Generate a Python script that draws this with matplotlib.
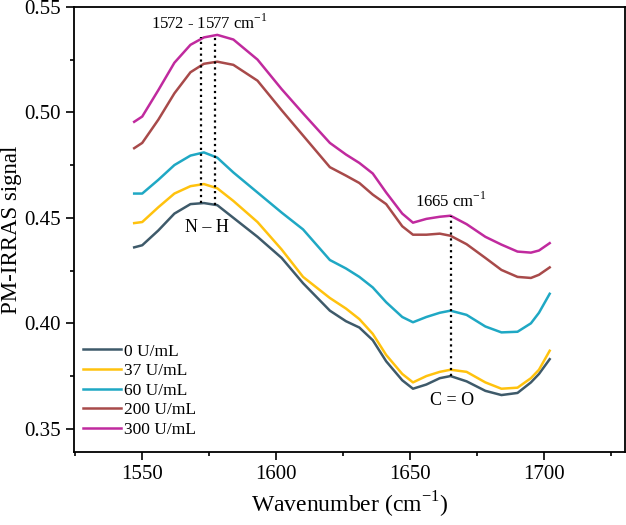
import numpy as np
import matplotlib.pyplot as plt
from matplotlib.ticker import MultipleLocator

plt.rcParams['font.family'] = ['Liberation Serif', 'DejaVu Serif']
plt.rcParams['mathtext.fontset'] = 'custom'
plt.rcParams['mathtext.rm'] = 'Liberation Serif'

# wavenumber (cm-1)
wn = [1547, 1550, 1556, 1562, 1568, 1573, 1578, 1584, 1593, 1602, 1610, 1620,
      1626, 1631, 1636, 1641, 1647, 1651, 1656, 1661, 1665, 1671, 1678, 1684,
      1690, 1695, 1698, 1702]

s0 = [0.436, 0.437, 0.444, 0.452, 0.4565, 0.457, 0.456, 0.450, 0.441, 0.431, 0.419, 0.406,
      0.401, 0.398, 0.392, 0.382, 0.373, 0.369, 0.371, 0.374, 0.375, 0.3725, 0.368, 0.366,
      0.367, 0.372, 0.376, 0.383]
s37 = [0.4475, 0.448, 0.455, 0.4615, 0.465, 0.466, 0.464, 0.458, 0.448, 0.435, 0.422, 0.412,
       0.407, 0.402, 0.395, 0.385, 0.376, 0.372, 0.375, 0.377, 0.378, 0.377, 0.372, 0.369,
       0.3695, 0.374, 0.378, 0.387]
s60 = [0.4615, 0.4615, 0.468, 0.475, 0.4795, 0.481, 0.4785, 0.4715, 0.462, 0.4525, 0.4445, 0.430,
       0.426, 0.422, 0.417, 0.410, 0.403, 0.4005, 0.403, 0.405, 0.406, 0.404, 0.3985, 0.3957,
       0.396, 0.400, 0.405, 0.414]
s200 = [0.483, 0.4855, 0.4965, 0.509, 0.519, 0.523, 0.524, 0.5225, 0.515, 0.501, 0.489, 0.474,
        0.470, 0.4665, 0.461, 0.4565, 0.446, 0.442, 0.442, 0.4425, 0.4415, 0.4375, 0.431, 0.4253,
        0.422, 0.4215, 0.423, 0.4265]
s300 = [0.4955, 0.498, 0.5105, 0.5235, 0.532, 0.5355, 0.5367, 0.5345, 0.525, 0.511, 0.4995, 0.4855,
        0.480, 0.476, 0.471, 0.462, 0.452, 0.4477, 0.4495, 0.4505, 0.451, 0.447, 0.441, 0.4373,
        0.434, 0.4335, 0.4345, 0.438]

labels = ['0 U/mL', '37 U/mL', '60 U/mL', '200 U/mL', '300 U/mL']
colors = ['#3e5a6a', '#ffc20e', '#1fa8c4', '#a84a4a', '#c02a9e']
series = [s0, s37, s60, s200, s300]

fig = plt.figure(figsize=(6.26, 5.25), dpi=100)
ax = fig.add_axes([0.118, 0.139, 0.88, 0.848])

for s, c, lab in zip(series, colors, labels):
    ax.plot(wn, s, color=c, linewidth=1.8, label=lab)

# peak markers
ax.plot([1572, 1572], [0.457, 0.5355], color='k', linestyle=':', linewidth=1.6)
ax.plot([1577, 1577], [0.456, 0.5367], color='k', linestyle=':', linewidth=1.6)
ax.plot([1665, 1665], [0.375, 0.451], color='k', linestyle=':', linewidth=1.6)

ax.text(1575, 0.5375, '1572 - 1577 cm$^{-1}$', ha='center', va='bottom', fontsize=12)
ax.text(1574, 0.4455, 'N – H', ha='center', va='center', fontsize=13)
ax.text(1665, 0.4535, '1665 cm$^{-1}$', ha='center', va='bottom', fontsize=12)
ax.text(1665.5, 0.3635, 'C = O', ha='center', va='center', fontsize=13)

ax.set_xlim(1524.5, 1730)
ax.set_ylim(0.339, 0.55)
ax.xaxis.set_major_locator(MultipleLocator(50))
ax.xaxis.set_minor_locator(MultipleLocator(25))
ax.yaxis.set_major_locator(MultipleLocator(0.05))
ax.yaxis.set_minor_locator(MultipleLocator(0.025))
ax.tick_params(which='both', direction='out', labelsize=15, width=1.2, top=False, right=False)
ax.tick_params(which='major', length=6)
ax.tick_params(which='minor', length=3)
for sp in ax.spines.values():
    sp.set_linewidth(1.3)

ax.set_xlabel('Wavenumber (cm$^{-1}$)', fontsize=17)
ax.set_ylabel('PM-IRRAS signal', fontsize=16.5)
ax.yaxis.set_label_coords(-0.095, 0.5)

ax.legend(loc='lower left', frameon=False, fontsize=12.5, handlelength=2.2,
          handletextpad=0.15, labelspacing=0.2, borderaxespad=0.2,
          bbox_to_anchor=(-0.002, 0.008))

plt.savefig('out.png', dpi=100)
plt.close(fig)
